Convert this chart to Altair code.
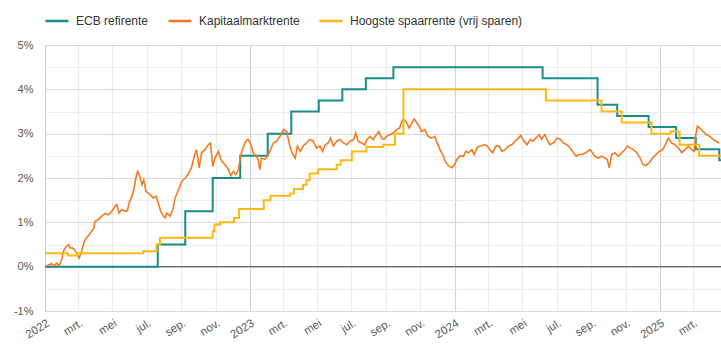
import altair as alt
import pandas as pd

SERIES = ["ECB refirente", "Kapitaalmarktrente", "Hoogste spaarrente (vrij sparen)"]
COLORS = ["#1b8c8c", "#f47a20", "#fdb913"]

# ECB refirente (step)
ecb_dates = ["2022-01-01", "2022-07-21", "2022-09-08", "2022-10-27", "2022-12-15",
             "2023-02-02", "2023-03-16", "2023-05-04", "2023-06-15", "2023-07-27",
             "2023-09-14", "2024-06-06", "2024-09-12", "2024-10-17", "2024-12-12",
             "2025-01-30", "2025-03-06", "2025-04-17", "2025-04-20"]
ecb_values = [0.00, 0.50, 1.25, 2.00, 2.50, 3.00, 3.50, 3.75, 4.00, 4.25,
              4.50, 4.25, 3.65, 3.40, 3.15, 2.90, 2.65, 2.40, 2.40]

# Hoogste spaarrente (vrij sparen) (step)
spaar_dates = ["2022-01-01", "2022-02-11", "2022-02-27", "2022-06-25", "2022-07-19",
               "2022-07-25", "2022-10-27", "2022-10-30", "2022-11-09", "2022-12-04",
               "2022-12-13", "2023-01-26", "2023-02-07", "2023-03-14", "2023-03-21",
               "2023-04-06", "2023-04-12", "2023-04-18", "2023-05-03", "2023-06-05",
               "2023-06-12", "2023-07-02", "2023-07-28", "2023-08-27", "2023-09-17",
               "2023-10-02", "2024-06-12", "2024-09-19", "2024-10-25", "2024-12-17",
               "2025-01-20", "2025-02-05", "2025-03-12", "2025-04-20"]
spaar_values = [0.30, 0.25, 0.30, 0.35, 0.50, 0.65, 0.80, 0.95, 1.00, 1.10,
                1.30, 1.50, 1.60, 1.65, 1.75, 1.85, 1.95, 2.10, 2.20, 2.30,
                2.40, 2.60, 2.70, 2.75, 3.00, 4.00, 3.75, 3.50, 3.25, 3.00,
                3.05, 2.75, 2.50, 2.50]

# Kapitaalmarktrente: (days since 2022-01-01, rate in %)
kmr = [
    (0, 0.00), (6, 0.04), (12, 0.07), (16, 0.02), (21, 0.08), (25, 0.02), (30, 0.16),
    (33, 0.35), (37, 0.44), (42, 0.50), (45, 0.42), (49, 0.42), (53, 0.38), (58, 0.27),
    (61, 0.20), (64, 0.29), (67, 0.42), (70, 0.57), (74, 0.65), (79, 0.72), (83, 0.80),
    (87, 0.87), (89, 1.02), (95, 1.06), (101, 1.14), (107, 1.20), (113, 1.17), (119, 1.25),
    (125, 1.36), (128, 1.40), (132, 1.21), (137, 1.29), (143, 1.25), (147, 1.27), (150, 1.44),
    (155, 1.59), (159, 1.78), (162, 2.00), (165, 2.15), (169, 2.04), (173, 1.85), (176, 1.96),
    (180, 1.70), (184, 1.66), (188, 1.62), (193, 1.55), (198, 1.59), (202, 1.44), (206, 1.25),
    (211, 1.14), (214, 1.10), (217, 1.21), (223, 1.14), (228, 1.29), (232, 1.55), (238, 1.74),
    (244, 1.93), (250, 2.00), (255, 2.08), (261, 2.23), (267, 2.53), (270, 2.64), (275, 2.23),
    (279, 2.57), (285, 2.64), (291, 2.75), (295, 2.79), (299, 2.26), (303, 2.45), (309, 2.60),
    (315, 2.38), (321, 2.30), (327, 2.19), (331, 2.05), (336, 2.15), (340, 2.08), (345, 2.19),
    (349, 2.53), (353, 2.68), (358, 2.83), (362, 2.87), (367, 2.75), (371, 2.57), (376, 2.49),
    (380, 2.42), (383, 2.19), (386, 2.45), (392, 2.42), (398, 2.53), (402, 2.64), (407, 2.79),
    (413, 2.83), (419, 2.94), (425, 3.09), (431, 3.05), (435, 2.79), (440, 2.57), (446, 2.45),
    (450, 2.72), (455, 2.60), (460, 2.72), (466, 2.79), (472, 2.87), (478, 2.83), (484, 2.68),
    (490, 2.72), (495, 2.60), (499, 2.75), (505, 2.79), (509, 2.90), (514, 2.72), (520, 2.83),
    (526, 2.87), (532, 2.79), (538, 2.75), (544, 2.83), (550, 2.87), (554, 3.02), (558, 2.83),
    (565, 2.79), (570, 2.75), (574, 2.87), (579, 2.94), (585, 2.87), (591, 2.98), (595, 3.05),
    (600, 2.90), (604, 2.87), (609, 2.94), (615, 2.98), (621, 3.02), (627, 3.09), (632, 3.13),
    (636, 3.28), (640, 3.32), (645, 3.24), (649, 3.13), (654, 3.24), (658, 3.33), (663, 3.24),
    (667, 3.17), (671, 3.05), (677, 3.09), (683, 2.94), (689, 2.90), (695, 2.94), (699, 2.79),
    (704, 2.64), (709, 2.53), (713, 2.38), (719, 2.28), (725, 2.23), (730, 2.30), (734, 2.42),
    (740, 2.50), (746, 2.49), (750, 2.60), (755, 2.57), (761, 2.64), (765, 2.53), (771, 2.70),
    (777, 2.72), (783, 2.75), (788, 2.73), (793, 2.64), (798, 2.57), (804, 2.72), (810, 2.72),
    (814, 2.60), (820, 2.64), (826, 2.72), (832, 2.75), (838, 2.83), (844, 2.90), (848, 2.96),
    (853, 2.85), (859, 2.75), (865, 2.87), (870, 2.83), (875, 2.90), (881, 2.98), (885, 2.87),
    (891, 2.98), (896, 2.83), (900, 2.75), (906, 2.79), (913, 2.90), (918, 2.88), (924, 2.79),
    (930, 2.75), (936, 2.68), (942, 2.57), (947, 2.49), (952, 2.53), (958, 2.53), (964, 2.57),
    (971, 2.64), (976, 2.57), (980, 2.49), (986, 2.45), (992, 2.49), (998, 2.45), (1002, 2.42),
    (1006, 2.23), (1010, 2.53), (1016, 2.57), (1022, 2.49), (1028, 2.57), (1034, 2.64),
    (1038, 2.72), (1043, 2.68), (1049, 2.64), (1055, 2.57), (1061, 2.45), (1066, 2.30),
    (1071, 2.28), (1077, 2.34), (1083, 2.45), (1089, 2.53), (1095, 2.60), (1101, 2.64),
    (1105, 2.73), (1111, 2.90), (1117, 2.79), (1123, 2.75), (1129, 2.68), (1135, 2.57),
    (1141, 2.64), (1147, 2.72), (1153, 2.64), (1157, 2.60), (1160, 2.98), (1163, 3.17),
    (1168, 3.11), (1173, 3.05), (1179, 2.98), (1185, 2.94), (1191, 2.87), (1196, 2.83),
    (1202, 2.79),
]

MONTHS_NL = ["jan.", "feb.", "mrt.", "apr.", "mei", "jun.", "jul.", "aug.", "sep.", "okt.", "nov.", "dec."]
Y_TICKS = [-1, -0.5, 0, 0.5, 1, 1.5, 2, 2.5, 3, 3.5, 4, 4.5, 5]

start = pd.Timestamp("2022-01-01")
df_ecb = pd.DataFrame({"datum": pd.to_datetime(ecb_dates), "rente": ecb_values, "reeks": SERIES[0]})
df_kmr = pd.DataFrame({"datum": [start + pd.Timedelta(days=d) for d, _ in kmr],
                       "rente": [v for _, v in kmr], "reeks": SERIES[1]})
df_spaar = pd.DataFrame({"datum": pd.to_datetime(spaar_dates), "rente": spaar_values, "reeks": SERIES[2]})

FONT = "Liberation Sans"
month_arr = "[" + ",".join("'%s'" % m for m in MONTHS_NL) + "]"

x_enc = alt.X(
    "datum:T",
    title=None,
    scale=alt.Scale(domain=[alt.DateTime(year=2022, month=1, date=1),
                            alt.DateTime(year=2025, month=4, date=20)], nice=False),
    axis=alt.Axis(
        tickCount={"interval": "month", "step": 2},
        labelExpr="month(datum.value) === 0 ? timeFormat(datum.value, '%Y') : " + month_arr + "[month(datum.value)]",
        grid=True,
        gridColor={"condition": {"test": "month(datum.value) === 0", "value": "#d2d2d2"}, "value": "#ececec"},
        gridWidth=1.2,
        ticks=False,
        domain=False,
        labelAngle=-32,
        labelAlign="right",
        labelBaseline="top",
        labelPadding=6,
        labelFontSize=11.5,
        labelColor="#595959",
        labelFont=FONT,
        labelFlush=False,
        labelOverlap=False,
    ),
)

y_enc = alt.Y(
    "rente:Q",
    title=None,
    scale=alt.Scale(domain=[-1, 5], nice=False),
    axis=alt.Axis(
        values=Y_TICKS,
        labelExpr="datum.value % 1 === 0 ? datum.value + '%' : ''",
        grid=True,
        gridColor={"condition": {"test": "datum.value % 1 === 0", "value": "#d9d9d9"}, "value": "#ededed"},
        gridWidth=1.2,
        ticks=False,
        domain=False,
        labelFontSize=11,
        labelColor="#595959",
        labelFont=FONT,
        labelPadding=12,
        labelFlush=False,
    ),
)

color_enc = alt.Color(
    "reeks:N",
    sort=SERIES,
    scale=alt.Scale(domain=SERIES, range=COLORS),
    legend=alt.Legend(
        title=None,
        orient="none",
        legendX=-1,
        legendY=-37,
        direction="horizontal",
        symbolType="stroke",
        symbolSize=529,
        symbolStrokeWidth=2.5,
        labelFontSize=12,
        labelColor="#333333",
        labelFont=FONT,
        labelLimit=300,
        labelOffset=6,
        columnPadding=14,
        padding=0,
    ),
)

zero = alt.Chart(pd.DataFrame({"rente": [0]})).mark_rule(color="#4d4d4d", strokeWidth=1).encode(y=y_enc)

ecb = alt.Chart(df_ecb).mark_line(interpolate="step-after", strokeWidth=2, clip=True).encode(
    x=x_enc, y=y_enc, color=color_enc)
kmr_line = alt.Chart(df_kmr).mark_line(strokeWidth=1.6, clip=True).encode(
    x=x_enc, y=y_enc, color=color_enc)
spaar = alt.Chart(df_spaar).mark_line(interpolate="step-after", strokeWidth=2, clip=True).encode(
    x=x_enc, y=y_enc, color=color_enc)

chart = alt.layer(zero, ecb, kmr_line, spaar).properties(
    width=676,
    height=266,
    autosize="none",
    padding={"left": 45, "top": 45, "right": 0, "bottom": 45},
).configure_view(stroke=None).configure(font=FONT)

chart.save("out.html", embed_options={"renderer": "svg", "actions": False})
